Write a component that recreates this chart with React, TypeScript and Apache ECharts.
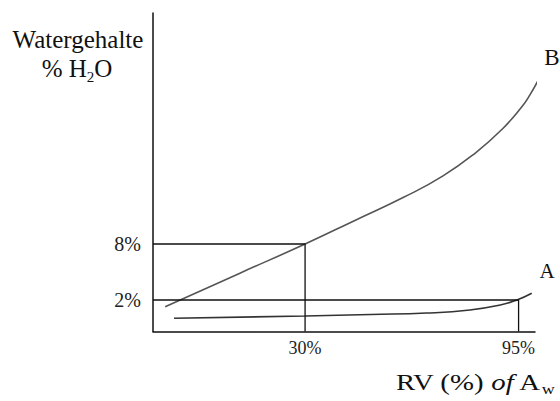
import React, { useEffect, useRef } from "react";
import * as echarts from "echarts";

const X_MIN = -16.3;
const X_MAX = 100;
const Y_MIN = -1.375;
const Y_MAX = 32.75;

const xTickValues = [30, 95];
const yTickValues = [2, 8];

const curveB: [number, number][] = [
  [-12.6, 1.28],
  [10, 4.85],
  [30, 8],
  [45, 10.5],
  [60, 13.0],
  [72, 15.3],
  [82, 17.8],
  [90, 20.3],
  [96, 22.7],
  [98.5, 24.0],
  [101.5, 25.9],
];

const curveA: [number, number][] = [
  [-9.9, 0.04],
  [30, 0.29],
  [50, 0.45],
  [67, 0.6],
  [80.2, 0.93],
  [89.4, 1.46],
  [94.5, 2.0],
  [99.0, 2.72],
];

const refB: [number, number] = [30, 8];
const refA: [number, number] = [95, 2];

const FONT = "'Liberation Serif', 'Times New Roman', serif";

export default function App() {
  const ref = useRef<HTMLDivElement>(null);
  useEffect(() => {
    if (!ref.current) return;
    const chart = echarts.init(ref.current, undefined, { renderer: "svg" });
    const refLine = (p: [number, number]) => [
      [X_MIN, p[1]],
      [p[0], p[1]],
      [p[0], Y_MIN],
    ];
    chart.setOption({
      animation: false,
      backgroundColor: "#ffffff",
      grid: { left: 153, right: 25, top: 13, bottom: 69.5 },
      xAxis: {
        type: "value",
        min: X_MIN,
        max: X_MAX,
        splitLine: { show: false },
        axisTick: { show: false },
        axisLine: { onZero: false, lineStyle: { color: "#111", width: 1.5 } },
        axisLabel: {
          customValues: xTickValues,
          formatter: (v: number) => `${v}%`,
          fontFamily: FONT,
          fontSize: 18,
          color: "#222",
          margin: 7,
        },
      },
      yAxis: {
        type: "value",
        min: Y_MIN,
        max: Y_MAX,
        splitLine: { show: false },
        axisTick: { show: false },
        axisLine: {
          show: true,
          onZero: false,
          lineStyle: { color: "#111", width: 1.5 },
        },
        axisLabel: {
          customValues: yTickValues,
          formatter: (v: number) => `${v}%`,
          fontFamily: FONT,
          fontSize: 20,
          color: "#222",
          margin: 12,
        },
      },
      series: [
        {
          type: "line",
          data: curveB,
          smooth: 0.5,
          symbol: "none",
          clip: false,
          lineStyle: { color: "#555", width: 1.6 },
        },
        {
          type: "line",
          data: curveA,
          smooth: 0.5,
          symbol: "none",
          clip: false,
          lineStyle: { color: "#333", width: 1.6 },
        },
        {
          type: "line",
          data: refLine(refB),
          symbol: "none",
          lineStyle: { color: "#111", width: 1.3 },
        },
        {
          type: "line",
          data: refLine(refA),
          symbol: "none",
          lineStyle: { color: "#111", width: 1.3 },
        },
      ],
      graphic: [
        {
          type: "text",
          x: 78,
          y: 39,
          style: {
            text: "Watergehalte",
            font: `25px ${FONT}`,
            fill: "#111",
            align: "center",
            verticalAlign: "middle",
          },
        },
        {
          type: "text",
          x: 77,
          y: 68,
          style: {
            text: "% H{sub|2}O",
            font: `25px ${FONT}`,
            fill: "#111",
            align: "center",
            verticalAlign: "middle",
            rich: {
              sub: {
                fontSize: 15,
                fontFamily: FONT,
                verticalAlign: "bottom",
                lineHeight: 32,
              },
            },
          },
        },
        {
          type: "text",
          x: 396,
          y: 382,
          scaleX: 1.2,
          style: {
            text: "RV (%) {it|of} A{sub|w}",
            font: `24px ${FONT}`,
            fill: "#111",
            align: "left",
            verticalAlign: "middle",
            rich: {
              it: { fontSize: 24, fontFamily: FONT, fontStyle: "italic" },
              sub: {
                fontSize: 15,
                fontFamily: FONT,
                verticalAlign: "bottom",
                lineHeight: 30,
              },
            },
          },
        },
        {
          type: "text",
          x: 547,
          y: 271,
          style: {
            text: "A",
            font: `21px ${FONT}`,
            fill: "#111",
            align: "center",
            verticalAlign: "middle",
          },
        },
        {
          type: "text",
          x: 552,
          y: 57,
          style: {
            text: "B",
            font: `23px ${FONT}`,
            fill: "#111",
            align: "center",
            verticalAlign: "middle",
          },
        },
      ],
    });
    return () => chart.dispose();
  }, []);
  return (
    <div
      ref={ref}
      style={{ position: "fixed", left: 0, top: 0, width: 560, height: 401 }}
    />
  );
}
